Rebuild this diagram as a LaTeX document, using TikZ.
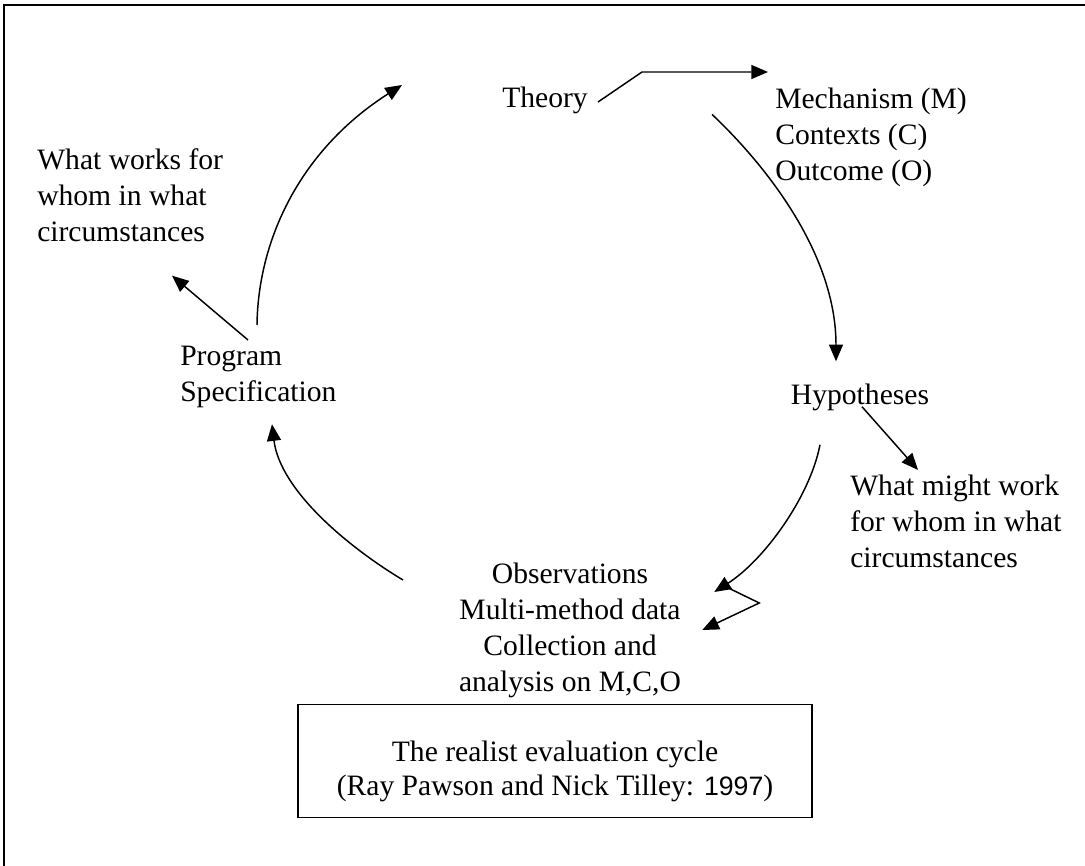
\documentclass[tikz,border=0pt]{standalone}
\usepackage{fontspec}
\setmainfont{Liberation Serif}
\newfontfamily\digitfont{Liberation Sans}
\usetikzlibrary{arrows.meta}
\begin{document}
\begin{tikzpicture}[x=0.75pt,y=-0.75pt,
  txt/.style={inner sep=0pt,font=\fontsize{22.2}{27}\selectfont},
  ln/.style={line width=1.1pt},
  arr/.style={line width=1.1pt,-{Triangle[length=12.5pt,width=10.5pt]}},
  capbox/.style={draw,line width=1.1pt,inner sep=0pt,minimum width=385.5pt,minimum height=84.75pt,align=center,font=\fontsize{22.2}{25}\selectfont}]
\useasboundingbox (0,0) rectangle (1085,866);
% frame
\draw[line width=1.3pt] (4,866) -- (4,5) -- (1085,5);
% nodes
\node[txt] (theory) at (545,100) {Theory};
\node[txt,anchor=north west,align=left] (mech) at (775,88) {Mechanism (M)\\Contexts (C)\\Outcome (O)};
\node[txt] (hyp) at (860,397) {Hypotheses};
\node[txt,anchor=north west,align=left] (might) at (850,475) {What might work\\for whom in what\\circumstances};
\node[txt,anchor=north,align=center] (obs) at (570,563) {Observations\\Multi-method data\\Collection and\\analysis on M,C,O};
\node[txt,anchor=north west,align=left] (prog) at (180,346) {Program\\Specification};
\node[txt,anchor=north west,align=left] (works) at (37,148) {What works for\\whom in what\\circumstances};
\node[capbox] (cap) at (555,761) {\rule{0pt}{31pt}The realist evaluation cycle\\(Ray Pawson and Nick Tilley: {\digitfont\fontsize{20}{25}\selectfont 1997})};
% connectors
\draw[arr] ([shift={(10,2)}]theory.east) -- ++(44,-30) -- ([shift={(-7,-16)}]mech.north west);
\draw[arr] ([shift={(-63,-73)}]mech.south west) .. controls ++(58,55) and ([shift={(-24,-127)}]hyp.north) .. ([shift={(-24,-22)}]hyp.north);
\draw[arr] ([shift={(2,-4)}]hyp.south) -- ([shift={(68,-5)}]might.north west);
\draw[arr] ([shift={(-40,34)}]hyp.south) .. controls ++(-10,52) and ([shift={(83,-3)}]obs.north east) .. ([shift={(33,29)}]obs.north east);
\draw[arr] ([shift={(41,22)}]obs.north east) -- ++(37,18) -- ([shift={(21,67)}]obs.north east);
\draw[arr] ([shift={(-167,17)}]obs.north) .. controls ++(-55,-33) and ([shift={(100,82)}]prog.south west) .. ([shift={(92,16)}]prog.south west);
\draw[arr] ([shift={(68,-6)}]prog.north west) -- ([shift={(135,34)}]works.south west);
\draw[arr] ([shift={(77,-21)}]prog.north west) .. controls ++(1,-85) and ([shift={(-202,50)}]theory.west) .. ([shift={(-100,-15)}]theory.west);
\end{tikzpicture}
\end{document}
